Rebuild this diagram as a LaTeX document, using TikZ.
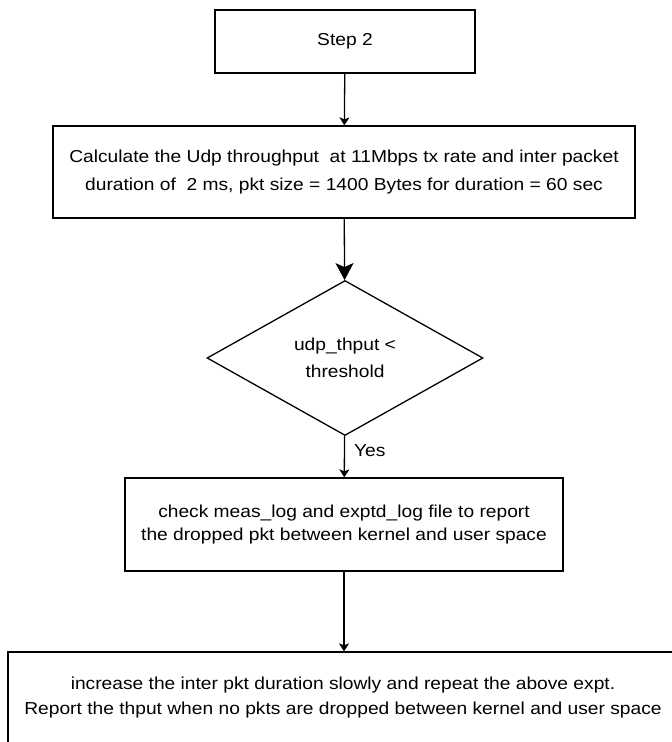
\documentclass[tikz,border=0pt]{standalone}
\usepackage{fontspec}
\setmainfont[FakeStretch=1.11]{Liberation Sans}
\usetikzlibrary{shapes.geometric,arrows.meta}
\begin{document}
\begin{tikzpicture}[x=1pt,y=-1pt,line width=1.3pt,
        box/.style={draw,rectangle,align=center,inner sep=0pt},
        test/.style={draw,diamond,aspect=1.78,align=center,inner sep=0pt},
        small/.style={-{Stealth[length=8pt,width=10pt,inset=2pt]}},
        big/.style={-{Stealth[length=17pt,width=18pt,inset=4pt]}}]
    \useasboundingbox (0,0) rectangle (672,742);
    \clip (0,0) rectangle (672,742);
    \node[box,minimum width=260pt,minimum height=63pt,font=\fontsize{17.3}{28}\selectfont] (step) at (345,41.5) {Step 2};
    \node[box,minimum width=582pt,minimum height=92pt,font=\fontsize{17.3}{28}\selectfont] (calc) at (344,172)
        {Calculate the Udp throughput~ at 11Mbps tx rate and inter packet\\duration of~ 2 ms, pkt size = 1400 Bytes for duration = 60 sec};
    \node[test,minimum width=276pt,minimum height=155pt,font=\fontsize{17.3}{27}\selectfont] (dec) at (345,358)
        {udp\_thput <\\threshold};
    \node[box,minimum width=438pt,minimum height=93pt,font=\fontsize{17.3}{23}\selectfont] (check) at (344,524.5)
        {check meas\_log and exptd\_log file to report\\the dropped pkt between kernel and user space};
    \node[box,minimum width=670pt,minimum height=92pt,font=\fontsize{17.3}{25}\selectfont] (incr) at (343,698)
        {increase the inter pkt duration slowly and repeat the above expt.\\Report the thput when no pkts are dropped between kernel and user space};
    \draw[small] (step) -- (calc);
    \draw[big] (calc) -- (dec);
    \draw[small] (dec) -- (check) node[pos=0.35,right=9pt,inner sep=0pt,font=\fontsize{17.3}{20}\selectfont] (yes) {Yes};
    \draw[small] (check.south) -- (check.south |- incr.north);
\end{tikzpicture}
\end{document}
